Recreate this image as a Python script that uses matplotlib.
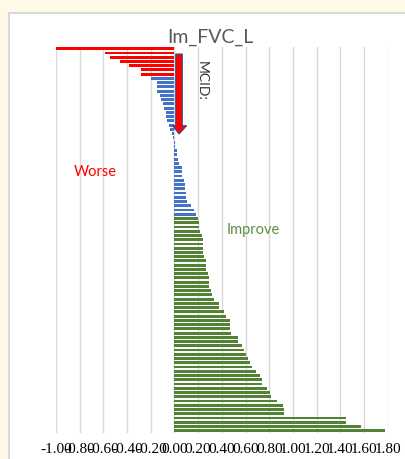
import matplotlib
matplotlib.use("Agg")
import matplotlib.pyplot as plt
from matplotlib.patches import Rectangle, Polygon
import numpy as np

plt.rcParams['axes.unicode_minus'] = False

title = "Im_FVC_L"
values = [-1.00, -0.59, -0.54, -0.46, -0.38, -0.28, -0.28,
          -0.20, -0.145, -0.145, -0.145, -0.125, -0.115, -0.10, -0.09, -0.07, -0.07,
          -0.06, -0.05, -0.035, -0.02, -0.01,
          0.005, 0.005, 0.02, 0.022, 0.03, 0.04, 0.06, 0.06, 0.062, 0.079, 0.09, 0.09,
          0.098, 0.098, 0.11, 0.14, 0.166, 0.186,
          0.20, 0.205, 0.205, 0.215, 0.233, 0.242, 0.242, 0.242, 0.242, 0.253, 0.262,
          0.262, 0.27, 0.28, 0.29, 0.29, 0.29, 0.31, 0.32, 0.33,
          0.377, 0.38, 0.416, 0.433, 0.465, 0.467, 0.47, 0.475,
          0.535, 0.535, 0.574, 0.59, 0.60, 0.62, 0.64, 0.653, 0.69, 0.72, 0.74, 0.74,
          0.78, 0.805, 0.816, 0.864, 0.914, 0.922, 0.922,
          1.449, 1.449, 1.575, 1.78]
groups = ['Worse'] * 7 + ['Within'] * 33 + ['Improve'] * 51
group_colors = {'Worse': '#FF0000', 'Within': '#4472C4', 'Improve': '#548235'}
x_ticks = [-1.0, -0.8, -0.6, -0.4, -0.2, 0.0, 0.2, 0.4, 0.6, 0.8, 1.0, 1.2, 1.4, 1.6, 1.8]
x_ticklabels = ["%.2f" % t for t in x_ticks]

W, H = 405, 459
fig = plt.figure(figsize=(W / 100, H / 100), dpi=100)
fig.patch.set_facecolor('#FFFAE8')

# white chart area with gray border
fig.patches.append(Rectangle((9 / W, -0.1), 1.2, 1 - 13 / H + 0.1,
                             transform=fig.transFigure, facecolor='white',
                             edgecolor='#D9D9D9', linewidth=1.5, zorder=-10))

ax = fig.add_axes([56 / W, 26.2 / H, 331.7 / W, 386.2 / H])
ax.set_facecolor('none')
ax.set_zorder(1)

idx = np.arange(len(values))
colors = [group_colors[g] for g in groups]
ax.barh(idx, values, height=0.68, color=colors, zorder=3)

ax.set_ylim(len(values) - 0.5, -0.5)
ax.set_xlim(x_ticks[0], x_ticks[-1])
ax.set_xticks(x_ticks)
ax.set_xticklabels(x_ticklabels, fontfamily='Liberation Serif', fontsize=11, color='#000000')
ax.tick_params(axis='x', length=0, pad=7.5)
ax.set_yticks([])
for s in ax.spines.values():
    s.set_visible(False)
ax.grid(axis='x', color='#D9D9D9', linewidth=1.0, zorder=0)
ax.set_axisbelow(True)

fig.text(210 / W, 1 - 37 / H, title, ha='center', va='center', fontfamily='Lato',
         fontsize=14, color='#595959')

# arrow
pw, ph = 331.7, 386.2
def to_ax(px, py):
    return ((px - 56) / pw, (432.8 - py) / ph)
pts = [(175.7, 54), (182.3, 54), (182.3, 125.7), (186.7, 125.7), (179, 134),
       (172.7, 125.7), (175.7, 125.7)]
ax.add_patch(Polygon([to_ax(*p) for p in pts], closed=True, transform=ax.transAxes,
                     facecolor='#FF0000', edgecolor='#2F528F', linewidth=0.8, zorder=5))

ax.text(*to_ax(201.5, 81), "MCID:", transform=ax.transAxes, rotation=270,
        ha='center', va='center', fontfamily='Lato', fontsize=10, color='#333333')
ax.text(*to_ax(95, 172), "Worse", transform=ax.transAxes, ha='center', va='center',
        fontfamily='Lato', fontsize=10.5, color='#FF0000')
ax.text(*to_ax(253.5, 230), "Improve", transform=ax.transAxes, ha='center', va='center',
        fontfamily='Lato', fontsize=10.5, color='#5E8E3E')

fig.savefig("out.png", dpi=100, facecolor=fig.get_facecolor())
